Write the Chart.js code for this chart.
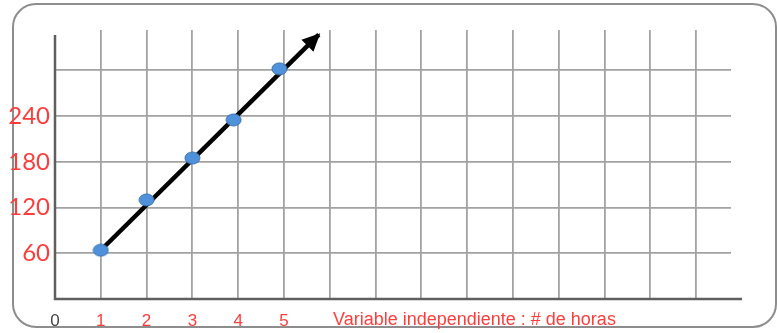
<!DOCTYPE html>
<html>
<head>
<meta charset="utf-8">
<script src="https://cdn.jsdelivr.net/npm/chart.js@4/dist/chart.umd.min.js"></script>
<style>
  html, body { margin: 0; padding: 0; background: #ffffff; }
  #wrap { position: relative; width: 777px; height: 333px; overflow: hidden; }
  #frame { position: absolute; left: 12px; top: 3px; width: 761px; height: 321px;
           border: 2px solid #8d8d8d; border-radius: 24px; pointer-events: none; }
  canvas { position: absolute; left: 0; top: 0; }
</style>
</head>
<body>
<div id="wrap">
  <div id="frame"></div>
  <canvas id="c" width="777" height="333"></canvas>
</div>
<script>
// ---- data ----
const xValues = [1, 2, 3, 3.9, 4.9];
const yValues = [64, 130, 185, 235, 302];
const arrowX = [1, 5.76];
const arrowY = [64, 347];
const xTicks = [0, 1, 2, 3, 4, 5, 6, 7, 8, 9, 10, 11, 12, 13, 14];
const xTickLabels = ['0', '1', '2', '3', '4', '5'];
const yTicks = [0, 60, 120, 180, 240, 300];
const yTickLabels = { 60: '60', 120: '120', 180: '180', 240: '240' };
const xAxisTitle = 'Variable independiente : # de horas';

const RED = '#ff3c3c';
const GRID = '#a2a2a2';
const AXIS = '#5f5f5f';

// ellipse marker
const marker = document.createElement('canvas');
marker.width = 17; marker.height = 14;
(function () {
  const m = marker.getContext('2d');
  m.beginPath();
  m.ellipse(8.5, 7, 7.5, 6, 0, 0, Math.PI * 2);
  m.fillStyle = '#4f91da';
  m.fill();
  m.lineWidth = 1;
  m.strokeStyle = '#3a74b0';
  m.stroke();
})();

const extras = {
  id: 'extras',
  afterDatasetsDraw(chart) {
    const ctx = chart.ctx;
    const xs = chart.scales.x, ys = chart.scales.y;
    // arrow head
    const x0 = xs.getPixelForValue(arrowX[0]), y0 = ys.getPixelForValue(arrowY[0]);
    const x1 = xs.getPixelForValue(arrowX[1]), y1 = ys.getPixelForValue(arrowY[1]);
    const a = Math.atan2(y1 - y0, x1 - x0);
    const tx = x1 + 2 * Math.cos(a), ty = y1 + 2 * Math.sin(a);
    const L = 18, W = 8.5;
    ctx.save();
    ctx.fillStyle = '#000';
    ctx.beginPath();
    ctx.moveTo(tx, ty);
    ctx.lineTo(tx - L * Math.cos(a) + W * Math.sin(a), ty - L * Math.sin(a) - W * Math.cos(a));
    ctx.lineTo(tx - L * Math.cos(a) - W * Math.sin(a), ty - L * Math.sin(a) + W * Math.cos(a));
    ctx.closePath();
    ctx.fill();
    ctx.restore();
  },
  beforeDatasetsDraw(chart) {
    const ctx = chart.ctx;
    const ca = chart.chartArea;
    const xs = chart.scales.x, ys = chart.scales.y;
    const ox = xs.getPixelForValue(0), oy = ys.getPixelForValue(0);
    ctx.save();
    ctx.strokeStyle = AXIS;
    ctx.lineWidth = 2.5;
    ctx.beginPath();
    ctx.moveTo(ox, ca.top + 5);
    ctx.lineTo(ox, oy);
    ctx.lineTo(ca.right + 11, oy);
    ctx.stroke();
    // axis title
    ctx.fillStyle = RED;
    ctx.font = '18px "Liberation Sans", Arial, sans-serif';
    ctx.textAlign = 'left';
    ctx.textBaseline = 'middle';
    ctx.fillText(xAxisTitle, xs.getPixelForValue(6.07), oy + 21);
    ctx.restore();
  }
};

new Chart(document.getElementById('c'), {
  type: 'scatter',
  data: {
    datasets: [
      {
        type: 'line',
        data: arrowX.map((x, i) => ({ x: x, y: arrowY[i] })),
        borderColor: '#000',
        borderWidth: 4.5,
        pointRadius: 0,
        fill: false,
        order: 2
      },
      {
        data: xValues.map((x, i) => ({ x: x, y: yValues[i] })),
        pointStyle: marker,
        pointRadius: 7,
        order: 1
      }
    ]
  },
  options: {
    responsive: false,
    animation: false,
    events: [],
    layout: { padding: { left: 0, right: 46, top: 30, bottom: 0 } },
    plugins: { legend: { display: false }, tooltip: { enabled: false }, title: { display: false } },
    scales: {
      x: {
        type: 'linear',
        min: 0,
        max: 14.76,
        afterBuildTicks(s) { s.ticks = xTicks.map(v => ({ value: v })); },
        afterFit(s) { s.height = 34; },
        border: { display: false },
        grid: {
          drawTicks: false,
          color: c => (c.tick && c.tick.value === 0 ? 'rgba(0,0,0,0)' : GRID),
          lineWidth: 1.8
        },
        ticks: {
          padding: 12,
          autoSkip: false,
          maxRotation: 0,
          font: { family: '"Liberation Sans", Arial, sans-serif', size: 17 },
          color: c => (c.tick && c.tick.value === 0 ? '#444444' : RED),
          callback: v => (xTickLabels[v] !== undefined ? xTickLabels[v] : '')
        }
      },
      y: {
        type: 'linear',
        min: 0,
        max: 353,
        afterBuildTicks(s) { s.ticks = yTicks.map(v => ({ value: v })); },
        afterFit(s) { s.width = 55; },
        border: { display: false },
        grid: {
          drawTicks: false,
          color: c => (c.tick && c.tick.value === 0 ? 'rgba(0,0,0,0)' : GRID),
          lineWidth: 1.8
        },
        ticks: {
          padding: 5,
          autoSkip: false,
          font: { family: 'Lato, sans-serif', size: 24 },
          color: RED,
          callback: v => (yTickLabels[v] !== undefined ? yTickLabels[v] : '')
        }
      }
    }
  },
  plugins: [extras]
});
</script>
</body>
</html>
